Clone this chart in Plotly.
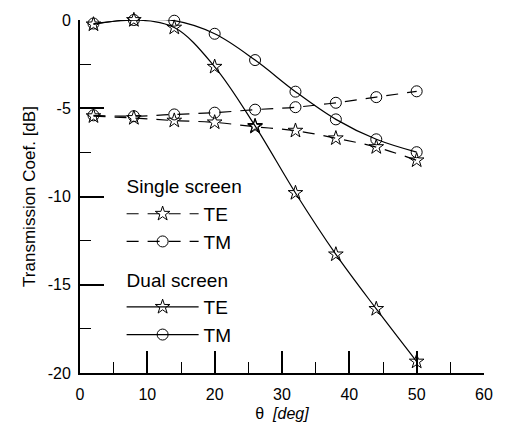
import plotly.graph_objects as go

theta = [2, 8, 14, 20, 26, 32, 38, 44, 50]
single_te = [-5.45, -5.55, -5.7, -5.8, -6.05, -6.27, -6.7, -7.2, -7.95]
single_tm = [-5.4, -5.45, -5.35, -5.25, -5.08, -4.94, -4.69, -4.37, -4.04]
dual_te = [-0.25, 0.0, -0.43, -2.65, -6.0, -9.8, -13.28, -16.37, -19.35]
dual_tm = [-0.2, 0.0, -0.04, -0.78, -2.27, -4.06, -5.63, -6.76, -7.49]

x_ticks = [0, 10, 20, 30, 40, 50, 60]
y_ticks = [0, -5, -10, -15, -20]
y_ticktext = ["0", "-5", "-10", "-15", "-20"]

FONT = "Liberation Sans, Arial, sans-serif"
dash = "12px,9px"

fig = go.Figure()
common_marker = dict(size=11, color="black", line=dict(width=1, color="black"))

fig.add_trace(go.Scatter(x=theta, y=single_te, name="TE", mode="lines+markers",
                         line=dict(color="black", width=1.2, dash=dash, shape="spline"),
                         marker=dict(symbol="star-open", **common_marker),
                         legendgroup="single", legendgrouptitle_text="Single screen",
                         cliponaxis=False))
fig.add_trace(go.Scatter(x=theta, y=single_tm, name="TM", mode="lines+markers",
                         line=dict(color="black", width=1.2, dash=dash, shape="spline"),
                         marker=dict(symbol="circle-open", **common_marker),
                         legendgroup="single", cliponaxis=False))
fig.add_trace(go.Scatter(x=theta, y=dual_te, name="TE", mode="lines+markers",
                         line=dict(color="black", width=1.2, shape="spline"),
                         marker=dict(symbol="star-open", **common_marker),
                         legendgroup="dual", legendgrouptitle_text="Dual screen",
                         cliponaxis=False))
fig.add_trace(go.Scatter(x=theta, y=dual_tm, name="TM", mode="lines+markers",
                         line=dict(color="black", width=1.2, shape="spline"),
                         marker=dict(symbol="circle-open", **common_marker),
                         legendgroup="dual", cliponaxis=False))

fig.update_layout(
    width=505, height=437,
    margin=dict(l=80, r=13, t=15, b=64),
    paper_bgcolor="white", plot_bgcolor="white",
    font=dict(family=FONT, size=16, color="black"),
    showlegend=True,
    legend=dict(x=0.103, y=0.583, xanchor="left", yanchor="top",
                bgcolor="rgba(0,0,0,0)", traceorder="grouped",
                tracegroupgap=10, font=dict(size=19), itemwidth=72,
                grouptitlefont=dict(size=19)),
)
fig.update_xaxes(range=[0, 60], tickvals=x_ticks, ticks="inside", ticklen=22,
                 tickwidth=1.5, tickcolor="black", showline=True, linecolor="black",
                 linewidth=2, showgrid=False, zeroline=False, mirror=False,
                 minor=dict(ticks="inside", ticklen=11, tickwidth=1.2, tickcolor="black", dtick=5),
                 title=dict(text="θ  <i>[deg]</i>", standoff=6, font=dict(size=16)),
                 ticklabelstandoff=6)
fig.update_yaxes(range=[-20, 0], tickvals=y_ticks, ticktext=y_ticktext, ticks="inside",
                 ticklen=24, tickwidth=1.5, tickcolor="black", showline=True,
                 linecolor="black", linewidth=2, showgrid=False, zeroline=False,
                 mirror=False,
                 minor=dict(ticks="inside", ticklen=11, tickwidth=1.2, tickcolor="black", dtick=2.5),
                 title=dict(text="Transmission Coef. [dB]", standoff=8, font=dict(size=17)),
                 ticklabelstandoff=4)

fig.write_html("out.html")
